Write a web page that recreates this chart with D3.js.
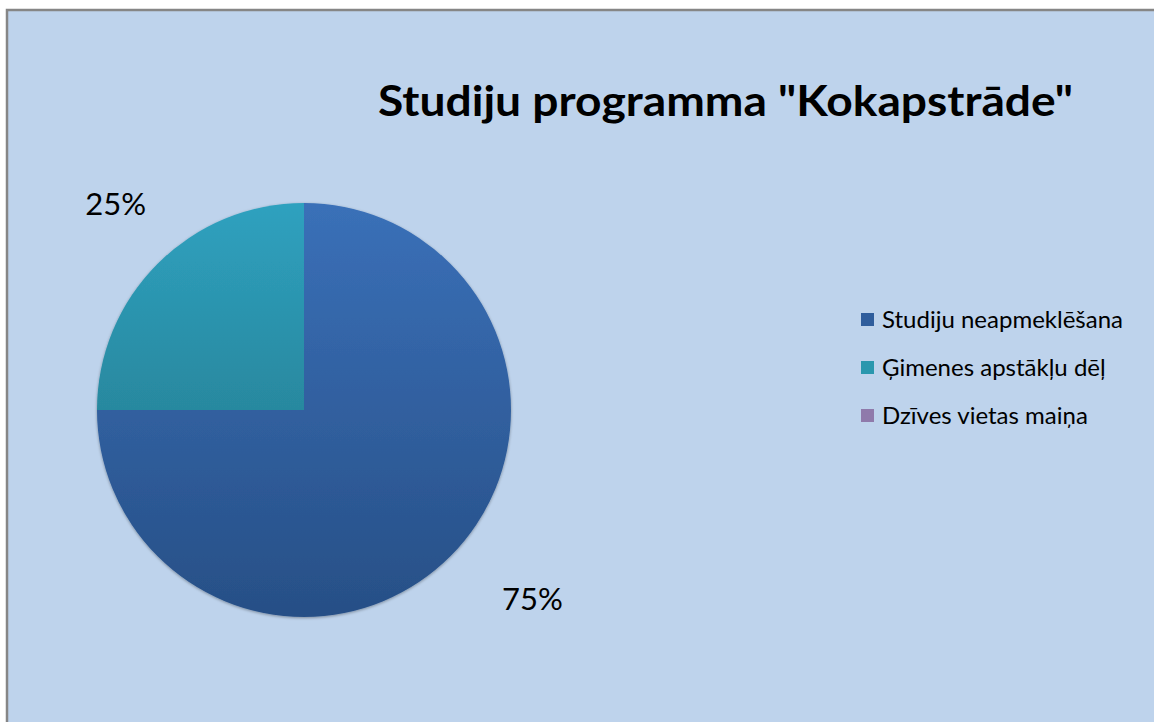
<!DOCTYPE html>
<html>
<head>
<meta charset="utf-8">
<script src="https://cdn.jsdelivr.net/npm/d3@7"></script>
<style>
  html, body { margin: 0; background: #fff; overflow: hidden; }
  svg { display: block; }
  text { font-family: Lato, "Open Sans", sans-serif; }
</style>
</head>
<body>
<div id="chart"></div>
<script>
const width = 1154, height = 722;

// Data
const categories = ["Studiju neapmeklēšana", "Ģimenes apstākļu dēļ", "Dzīves vietas maiņa"];
const values = [75, 25, 0];
const labels = ["75%", "25%", "0%"];
const colorsTop = ["#3a70b8", "#2fa1bf", "#9f88b8"];
const colorsBottom = ["#274f86", "#21707f", "#7f6b98"];
const legendColors = ["#2f5d9c", "#2a97ae", "#8f7aab"];

const svg = d3.select("#chart")
    .append("svg")
    .attr("width", width)
    .attr("height", height);

const defs = svg.append("defs");

const cx = 304, cy = 410, radius = 207;

// Vertical gradients for each slice (lighter at top), in pie-group coords
categories.forEach((c, i) => {
    const g = defs.append("linearGradient")
        .attr("id", "grad" + i)
        .attr("gradientUnits", "userSpaceOnUse")
        .attr("x1", 0).attr("y1", -radius)
        .attr("x2", 0).attr("y2", radius);
    g.append("stop").attr("offset", "0%").attr("stop-color", colorsTop[i]);
    g.append("stop").attr("offset", "100%").attr("stop-color", colorsBottom[i]);
});

const shadow = defs.append("filter").attr("id", "shadow")
    .attr("x", "-10%").attr("y", "-10%").attr("width", "120%").attr("height", "120%");
shadow.append("feDropShadow")
    .attr("dx", 0).attr("dy", 1).attr("stdDeviation", 1.5)
    .attr("flood-color", "#000").attr("flood-opacity", 0.35);

// Background panel, border only on top and left (rest runs off the page)
svg.append("rect")
    .attr("x", 7).attr("y", 10)
    .attr("width", width - 7).attr("height", height - 10)
    .attr("fill", "#bed3ec");
svg.append("path")
    .attr("d", `M7,${height}V10H${width}`)
    .attr("fill", "none")
    .attr("stroke", "#868686")
    .attr("stroke-width", 2.5);

// Title
svg.append("text")
    .attr("x", 725.5)
    .attr("y", 116)
    .attr("text-anchor", "middle")
    .attr("font-size", 42)
    .attr("font-weight", "bold")
    .attr("fill", "#000")
    .attr("textLength", 695)
    .attr("lengthAdjust", "spacingAndGlyphs")
    .text('Studiju programma "Kokapstrāde"');

// Pie
const pie = d3.pie().sort(null).value(d => d.value);
const arc = d3.arc().innerRadius(0).outerRadius(radius);
const labelArc = d3.arc().innerRadius(272).outerRadius(272);

const data = categories.map((c, i) => ({ name: c, value: values[i], label: labels[i], i }));
const arcs = pie(data);
const shown = arcs.filter(d => d.data.value > 0);

const g = svg.append("g").attr("transform", `translate(${cx},${cy})`);

g.append("g").attr("filter", "url(#shadow)")
    .selectAll("path")
    .data(shown)
    .join("path")
    .attr("d", arc)
    .attr("fill", d => `url(#grad${d.data.i})`);

// Labels sit outside the slice, text box pushed away from the pie
g.selectAll("text.pct")
    .data(shown)
    .join("text")
    .attr("class", "pct")
    .attr("transform", d => {
        const [x, y] = labelArc.centroid(d);
        return `translate(${x + (x > 0 ? 36 : 4)},${y + (y > 0 ? -3 : -14)})`;
    })
    .attr("text-anchor", "middle")
    .attr("dy", "0.35em")
    .attr("font-size", 31)
    .attr("fill", "#000")
    .text(d => d.data.label);

// Legend
const legend = svg.append("g").attr("transform", "translate(861, 313)");
categories.forEach((c, i) => {
    const row = legend.append("g").attr("transform", `translate(0, ${i * 48})`);
    row.append("rect")
        .attr("width", 13).attr("height", 13)
        .attr("fill", legendColors[i]);
    row.append("text")
        .attr("x", 21).attr("y", 15)
        .attr("font-size", 24)
        .attr("fill", "#000")
        .text(c);
});
</script>
</body>
</html>
